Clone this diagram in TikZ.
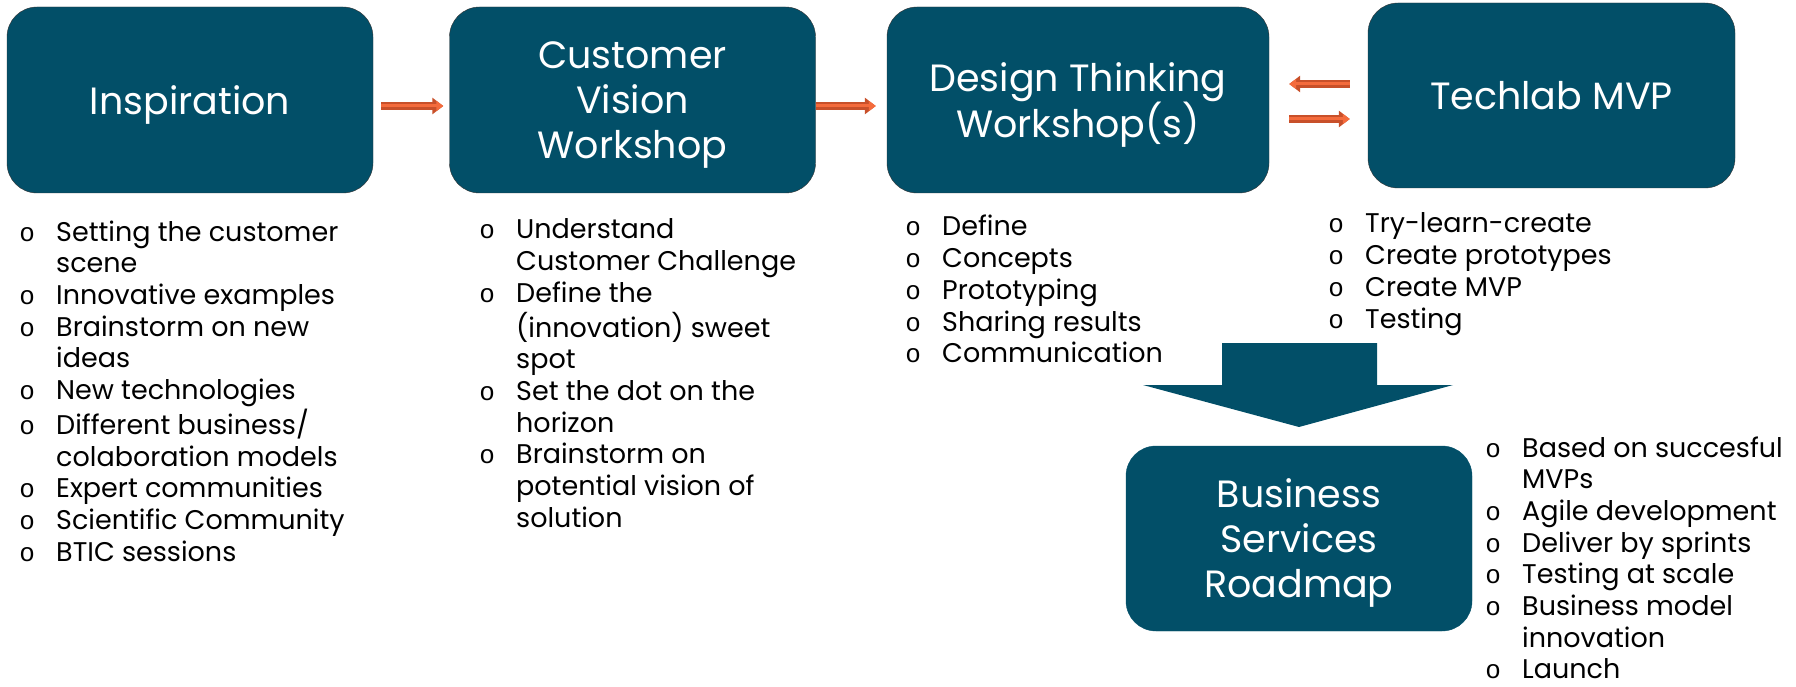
\documentclass[tikz,border=0pt]{standalone}
\usepackage{fontspec}
\setmainfont{Poppins}
\newfontfamily\bulfont{Liberation Mono}
\usetikzlibrary{arrows.meta}

\definecolor{stageblue}{HTML}{024F68}
\definecolor{arrowline}{HTML}{C8502A}
\definecolor{arrowfill}{HTML}{F46B3C}
\newcommand{\bul}{\makebox[16pt]{\bulfont\fontsize{26}{26}\selectfont o}}

\begin{document}
\begin{tikzpicture}[x=1pt, y=-1pt,
stage/.style={rectangle, rounded corners=30pt, fill=stageblue, draw=black!80, thin, text=white, align=center,
  font=\fontsize{38}{45}\selectfont, text depth=0pt, minimum width=366pt, minimum height=186pt, inner sep=0pt},
items/.style={anchor=base west, inner sep=0pt, font=\fontsize{27}{31.7}\selectfont},
flow/.style={draw=arrowfill, line width=3pt, -{Triangle[length=7pt,width=10pt]},
  preaction={draw=arrowline, line width=7.5pt, -{Triangle[length=11pt,width=16pt]}}}
]
\useasboundingbox (0,0) rectangle (1796,687);
%Nodes
\node[stage]      (insp)    at (190,100)     {Inspiration};
\node[stage]      (cvw)     at (632.5,100)   {Customer\\Vision\\Workshop};
\node[stage, minimum width=382pt]  (dtw)  at (1078,100)  {Design Thinking\\Workshop(s)};
\node[stage, minimum width=367pt, minimum height=185pt]  (mvp)  at (1551.5,95.5)  {Techlab MVP};
\node[stage, draw=stageblue, minimum width=346pt, minimum height=185pt]  (road)  at (1299,538.5)  {Business\\Services\\Roadmap};
%Lists
\node[items] (inspl) at (19,241) {\begin{tabular}[t]{@{}c@{\hspace{21pt}}l@{}}
\bul & Setting the customer\\
     & scene\\
\bul & Innovative examples\\
\bul & Brainstorm on new\\
     & ideas\\
\bul & New technologies\\
\bul & Different business/\\
     & colaboration models\\
\bul & Expert communities\\
\bul & Scientific Community\\
\bul & BTIC sessions
\end{tabular}};
\node[items] (cvwl) at (479,239) {\begin{tabular}[t]{@{}c@{\hspace{21pt}}l@{}}
\bul & Understand\\
     & Customer Challenge\\
\bul & Define the\\
     & (innovation) sweet\\
     & spot\\
\bul & Set the dot on the\\
     & horizon\\
\bul & Brainstorm on\\
     & potential vision of\\
     & solution
\end{tabular}};
\node[items] (dtwl) at (905,236) {\begin{tabular}[t]{@{}c@{\hspace{21pt}}l@{}}
\bul & Define\\
\bul & Concepts\\
\bul & Prototyping\\
\bul & Sharing results\\
\bul & Communication
\end{tabular}};
\node[items] (mvpl) at (1328,233) {\begin{tabular}[t]{@{}c@{\hspace{21pt}}l@{}}
\bul & Try-learn-create\\
\bul & Create prototypes\\
\bul & Create MVP\\
\bul & Testing
\end{tabular}};
\node[items] (roadl) at (1485,457) {\begin{tabular}[t]{@{}c@{\hspace{21pt}}l@{}}
\bul & Based on succesful\\
     & MVPs\\
\bul & Agile development\\
\bul & Deliver by sprints\\
\bul & Testing at scale\\
\bul & Business model\\
     & innovation\\
\bul & Launch
\end{tabular}};
%Lines
\draw[flow, shorten <=8pt, shorten >=6pt] ([yshift=-6pt]insp.east) -- ([yshift=-6pt]cvw.west);
\draw[flow, shorten >=11pt] ([yshift=-6pt]cvw.east) -- ([yshift=-6pt]dtw.west);
\draw[flow, shorten <=18pt, shorten >=20pt] ([yshift=11.5pt]mvp.west) -- ([yshift=11.5pt]mvp.west -| dtw.east);
\draw[flow, shorten <=20pt, shorten >=18pt] ([yshift=-19pt]dtw.east) -- ([yshift=-19pt]dtw.east -| mvp.west);
%Big arrow down
\fill[stageblue] (1222,343) -- (1377,343) -- (1377,385) -- (1453,385) -- (1299,427) -- (1143,385) -- (1222,385) -- cycle;
\end{tikzpicture}
\end{document}
